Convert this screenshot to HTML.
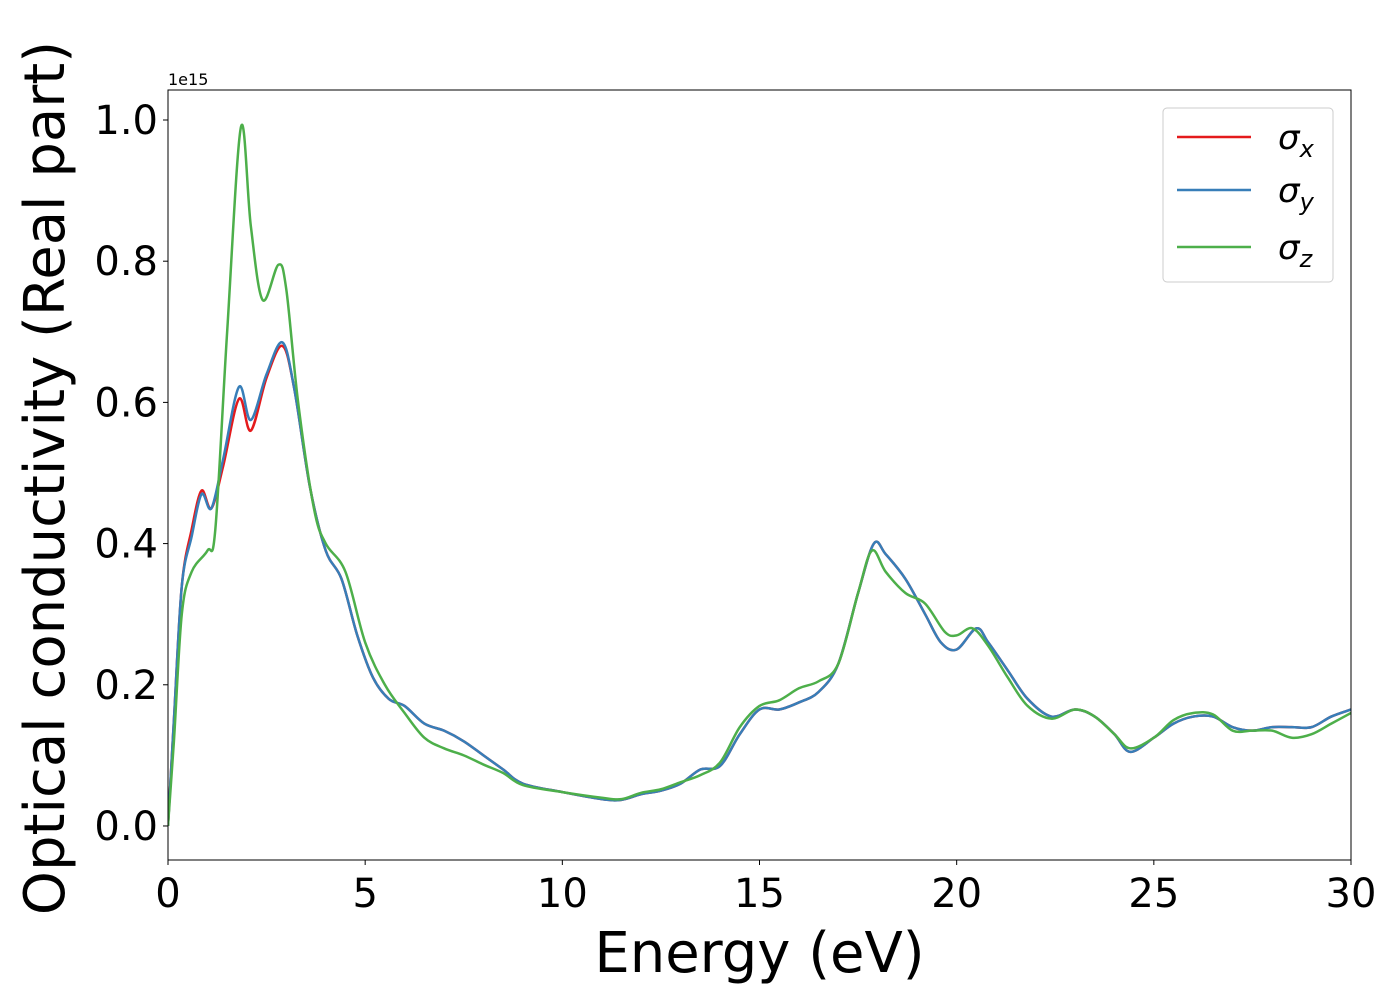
<!DOCTYPE html>
<html><head><meta charset="utf-8"><style>
body{margin:0;background:#fff;}
svg text{font-family:"DejaVu Sans","Liberation Sans",sans-serif;}
</style></head><body>
<svg id="chart" width="1400" height="1000" xmlns="http://www.w3.org/2000/svg">
<rect x="0" y="0" width="1400" height="1000" fill="#fff"/>
<g id="series"></g>
<g id="axes"></g>
</svg>
<script>
const xTicks=[0,5,10,15,20,25,30];
const yTicks=[0,0.2,0.4,0.6,0.8,1.0];
const yTickLabels=["0.0","0.2","0.4","0.6","0.8","1.0"];
const xsXY=[0,0.15,0.35,0.6,0.85,1.1,1.4,1.8,2.1,2.5,2.9,3.2,3.6,4.0,4.4,4.8,5.2,5.6,6.0,6.5,7.0,7.5,8.0,8.5,9,10,11,11.5,12,12.5,13,13.5,14,14.5,15,15.5,16,16.5,17,17.5,17.9,18.2,18.7,19.2,19.6,20,20.5,20.8,21.3,21.8,22.4,23,23.5,24,24.4,25,25.5,26,26.5,27,27.5,28,28.5,29,29.5,30];
const sigmaY=[0,0.15,0.34,0.41,0.47,0.45,0.52,0.622,0.575,0.64,0.685,0.62,0.48,0.39,0.35,0.27,0.21,0.18,0.17,0.145,0.135,0.12,0.1,0.08,0.06,0.048,0.038,0.037,0.045,0.05,0.06,0.08,0.085,0.13,0.165,0.165,0.175,0.19,0.23,0.33,0.4,0.385,0.35,0.3,0.26,0.25,0.28,0.26,0.22,0.18,0.155,0.165,0.155,0.13,0.105,0.125,0.145,0.155,0.155,0.14,0.135,0.14,0.14,0.14,0.155,0.165];
const sigmaX=[0,0.15,0.34,0.42,0.475,0.45,0.51,0.605,0.56,0.635,0.68,0.62,0.48,0.39,0.35,0.27,0.21,0.18,0.17,0.145,0.135,0.12,0.1,0.08,0.06,0.048,0.038,0.037,0.045,0.05,0.06,0.08,0.085,0.13,0.165,0.165,0.175,0.19,0.23,0.33,0.4,0.385,0.35,0.3,0.26,0.25,0.28,0.26,0.22,0.18,0.155,0.165,0.155,0.13,0.105,0.125,0.145,0.155,0.155,0.14,0.135,0.14,0.14,0.14,0.155,0.165];
const xsZ=[0,0.15,0.35,0.6,1.0,1.2,1.5,1.85,2.1,2.4,2.8,3.0,3.3,3.7,4.0,4.5,5.0,5.5,6.0,6.5,7.0,7.5,8,8.5,9,10,11,11.5,12,12.5,13,13.5,14,14.5,15,15.5,16,16.5,17,17.5,17.85,18.2,18.7,19.2,19.7,20,20.4,20.8,21.3,21.8,22.4,23,23.5,24,24.4,25,25.5,26,26.5,27,27.5,28,28.5,29,29.5,30];
const sigmaZ=[0,0.12,0.3,0.36,0.39,0.42,0.7,0.99,0.85,0.745,0.795,0.76,0.6,0.45,0.4,0.36,0.26,0.2,0.16,0.125,0.11,0.1,0.087,0.075,0.058,0.048,0.04,0.038,0.047,0.052,0.062,0.072,0.09,0.14,0.17,0.178,0.195,0.205,0.23,0.33,0.39,0.36,0.33,0.315,0.275,0.27,0.28,0.255,0.21,0.17,0.152,0.165,0.155,0.13,0.11,0.125,0.15,0.16,0.158,0.135,0.135,0.135,0.125,0.13,0.145,0.16];

const L=168,R=1351,T=90,B=860;
const xMin=0,xMax=30,yMin=-0.0482,yMax=1.0425;
const sx=v=>L+(v-xMin)/(xMax-xMin)*(R-L);
const sy=v=>B-(v-yMin)/(yMax-yMin)*(B-T);
const NS="http://www.w3.org/2000/svg";
function mk(tag,attrs,parent){const e=document.createElementNS(NS,tag);for(const k in attrs)e.setAttribute(k,attrs[k]);parent.appendChild(e);return e;}
function pathFor(xs,ys){
  const p=xs.map((x,i)=>[sx(x),sy(ys[i])]);
  let d="M"+p[0][0]+","+p[0][1];
  for(let i=0;i<p.length-1;i++){
    const p0=p[Math.max(i-1,0)],p1=p[i],p2=p[i+1],p3=p[Math.min(i+2,p.length-1)];
    const c1=[p1[0]+(p2[0]-p0[0])/6,p1[1]+(p2[1]-p0[1])/6];
    const c2=[p2[0]-(p3[0]-p1[0])/6,p2[1]-(p3[1]-p1[1])/6];
    d+=" C"+c1[0]+","+c1[1]+" "+c2[0]+","+c2[1]+" "+p2[0]+","+p2[1];
  }
  return d;
}
const sg=document.getElementById('series');
const defs=mk('clipPath',{id:'clip'},sg);mk('rect',{x:L,y:T,width:R-L,height:B-T},defs);
const series=[[xsXY,sigmaX,'#e41a1c','sigma-x-line'],[xsXY,sigmaY,'#377eb8','sigma-y-line'],[xsZ,sigmaZ,'#4daf4a','sigma-z-line']];
series.forEach(s=>{
  const e=mk('path',{d:pathFor(s[0],s[1]),fill:'none',stroke:s[2],'stroke-width':2.5,'clip-path':'url(#clip)'},sg);
  
  
});
const ax=document.getElementById('axes');
const fr=mk('rect',{x:L,y:T,width:R-L,height:B-T,fill:'none',stroke:'#000','stroke-width':1},ax);


xTicks.forEach(v=>{
  mk('line',{x1:sx(v),x2:sx(v),y1:B,y2:B+5,stroke:'#000'},ax);
  const t=mk('text',{x:sx(v),y:B+47,'font-size':40,'text-anchor':'middle'},ax);t.textContent=v;
  
  
});
yTicks.forEach((v,i)=>{
  mk('line',{x1:L-5,x2:L,y1:sy(v),y2:sy(v),stroke:'#000'},ax);
  const t=mk('text',{x:L-10,y:sy(v)+14,'font-size':40,'text-anchor':'end'},ax);t.textContent=yTickLabels[i];
  
  
});
const ex=mk('text',{x:L,y:85,'font-size':16},ax);ex.textContent='1e15';


const xt=mk('text',{x:(L+R)/2,y:972,'font-size':56,'text-anchor':'middle'},ax);xt.textContent='Energy (eV)';


const yt=mk('text',{x:0,y:0,'font-size':56,'text-anchor':'middle',transform:'translate(64,478) rotate(-90)'},ax);yt.textContent='Optical conductivity (Real part)';


const lg=mk('g',{},ax);


mk('rect',{x:1163,y:108,width:170,height:174,rx:4,fill:'#fff',stroke:'#ccc'},lg);
[['#e41a1c','x',137],['#377eb8','y',190],['#4daf4a','z',247]].forEach(e=>{
  mk('line',{x1:1177,x2:1251,y1:e[2],y2:e[2],stroke:e[0],'stroke-width':2.5},lg);
  const t=mk('text',{x:1278,y:e[2]+12,'font-size':34,'font-style':'italic'},lg);
  
  
  t.textContent='σ';
  const s=mk('tspan',{'font-size':24,dy:8},t);s.textContent=e[1];
});
</script>
</body></html>
